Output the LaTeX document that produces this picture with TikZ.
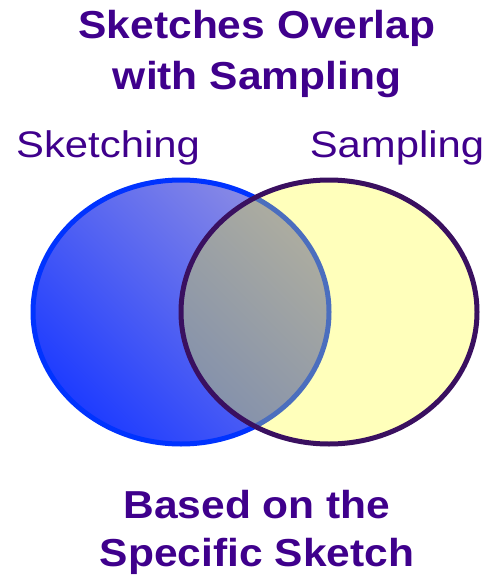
\documentclass[tikz,border=0pt]{standalone}
\usepackage{fontspec}
\setmainfont{Liberation Sans}

\definecolor{inktext}{RGB}{63,0,140}
\definecolor{sketchrim}{RGB}{0,51,255}
\definecolor{sketchlight}{RGB}{140,140,228}
\definecolor{sketchdark}{RGB}{30,60,255}
\definecolor{samplefill}{RGB}{255,255,187}
\definecolor{samplerim}{RGB}{58,16,96}
\definecolor{bothlight}{RGB}{172,172,160}
\definecolor{bothdark}{RGB}{110,130,178}
\definecolor{bothrim}{RGB}{75,110,190}

\tikzset{
  headline/.style={text=inktext, font=\fontsize{39}{46}\selectfont\bfseries, xscale=1.09, anchor=base, inner sep=0pt},
  setlabel/.style={text=inktext, font=\fontsize{37}{44}\selectfont, xscale=1.13, anchor=base, inner sep=0pt}
}

\begin{document}
\begin{tikzpicture}[x=1pt,y=-1pt]
\useasboundingbox (0,0) rectangle (487,578);
% headline
\node[headline] (top1) at (257,38) {Sketches Overlap};
\node[headline] (top2) at (257,89) {with Sampling};
% set names
\node[setlabel] (lsketch) at (108,157) {Sketching};
\node[setlabel] (lsample) at (397,157) {Sampling};
% the two sets
\shade[shading=axis, top color=sketchlight, bottom color=sketchdark, shading angle=-45]
  (181,312) ellipse[x radius=148, y radius=132];
\draw[sketchrim, line width=5pt] (181,312) ellipse[x radius=148, y radius=132];
\fill[samplefill] (329,312) ellipse[x radius=148, y radius=132];
% where they meet
\begin{scope}
  \clip (329,312) ellipse[x radius=148, y radius=132];
  \shade[shading=axis, top color=bothlight, bottom color=bothdark, shading angle=-45]
    (181,312) ellipse[x radius=148, y radius=132];
  \draw[bothrim, line width=5pt] (181,312) ellipse[x radius=148, y radius=132];
\end{scope}
\draw[samplerim, line width=5pt] (329,312) ellipse[x radius=148, y radius=132];
% footline
\node[headline] (bot1) at (257,518) {Based on the};
\node[headline] (bot2) at (257,566) {Specific Sketch};
\end{tikzpicture}
\end{document}
